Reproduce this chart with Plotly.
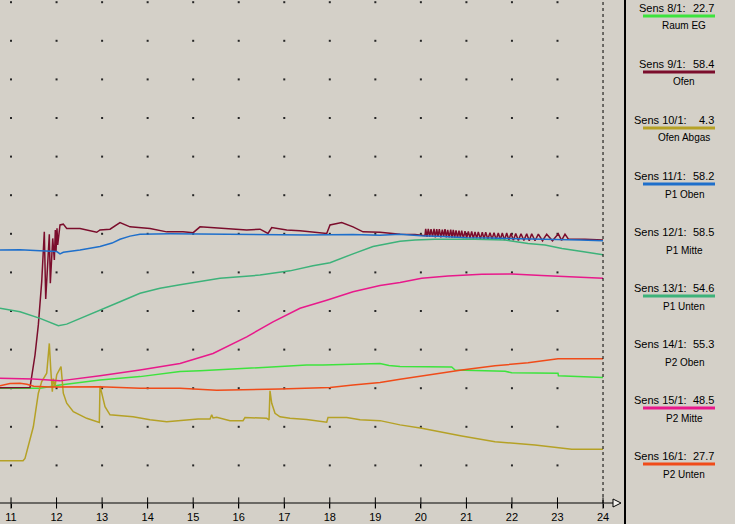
import plotly.graph_objects as go

# ---------------- axis / grid ----------------
x_ticks = [11, 12, 13, 14, 15, 16, 17, 18, 19, 20, 21, 22, 23, 24]
x_tick_labels = [str(v) for v in x_ticks]
grid_hours = [11, 12, 13, 14, 15, 16, 17, 18, 19, 20, 21, 22, 23]
grid_temps = [0, 10, 20, 30, 40, 50, 60, 70, 80, 90, 100, 110, 120]
x_range = [10.758, 24.197]
y_range = [-9.74, 120.57]
cursor_hour = 24

# ---------------- legend panel ----------------
sensor_ids = ["Sens 8/1:", "Sens 9/1:", "Sens 10/1:", "Sens 11/1:", "Sens 12/1:",
              "Sens 13/1:", "Sens 14/1:", "Sens 15/1:", "Sens 16/1:"]
sensor_values = ["22.7", "58.4", "4.3", "58.2", "58.5", "54.6", "55.3", "48.5", "27.7"]
sensor_names = ["Raum EG", "Ofen", "Ofen Abgas", "P1 Oben", "P1 Mitte",
                "P1 Unten", "P2 Oben", "P2 Mitte", "P2 Unten"]
sensor_colors = ["#3de33d", "#7b0d2c", "#b5a126", "#1e6fcb", None,
                 "#3db27a", None, "#e8198b", "#f04b19"]

# ---------------- series ----------------
raum_t = [10.758, 11.637, 12.076, 12.954, 13.833, 14.711, 15.150, 16.176, 17.493, 17.851,
          18.9, 19.103, 19.3, 19.542, 20.677, 20.75, 21.848, 21.995, 23.011, 23.02, 24.0]
raum_v = [20.0, 20.0, 20.8, 22.1, 23.0, 24.3, 24.5, 25.2, 26.0, 26.0,
          26.2, 26.4, 25.9, 25.6, 25.5, 24.7, 24.4, 24.0, 23.9, 23.2, 22.8]

ofen_t = [10.758, 10.978, 11.198, 11.35, 11.417, 11.527, 11.6, 11.674, 11.709, 11.731,
          11.762, 11.841, 11.863, 11.916, 11.951, 11.973, 11.988, 12.01, 12.025, 12.076,
          12.148, 12.223, 12.515, 12.882, 12.954, 13.174, 13.393, 13.613, 14.052, 14.419,
          14.777, 15.0, 15.15, 15.589, 15.875, 16.176, 16.468, 16.643, 16.725, 17.054,
          17.346, 17.631, 17.932, 18.005, 18.262, 18.51, 18.73, 19.103, 19.388, 19.542,
          19.871, 20.09,
          20.106, 20.135, 20.163, 20.193, 20.223, 20.256, 20.289, 20.318, 20.348, 20.376,
          20.405, 20.438, 20.471, 20.50, 20.530, 20.56, 20.589, 20.622, 20.655, 20.683,
          20.712, 20.742, 20.772, 20.805, 20.837, 20.867, 20.897, 20.933, 20.969, 21.005,
          21.042, 21.079, 21.116, 21.152, 21.189, 21.225, 21.261, 21.305, 21.349, 21.386,
          21.424, 21.471, 21.518, 21.562, 21.606, 21.653, 21.700, 21.744, 21.788, 21.836,
          21.885, 21.932, 21.979, 22.031, 22.083, 22.141, 22.199, 22.262, 22.324, 22.379,
          22.434, 22.506, 22.579, 22.671, 22.763, 22.89, 23.018, 23.09, 23.165, 23.24,
          23.6, 24.0]
ofen_v = [20.1, 20.1, 20.2, 20.2, 20.2, 28.6, 36.4, 47.6, 58.0, 60.5,
          43.1, 59.9, 47.2, 58.8, 53.2, 61.0, 55.4, 61.4, 57.1, 62.3,
          62.5, 61.4, 61.4, 60.4, 61.0, 61.2, 62.9, 61.8, 61.4, 60.5,
          60.5, 60.3, 61.8, 61.4, 61.1, 61.0, 61.2, 60.1, 61.6, 61.0,
          60.8, 60.4, 60.1, 62.3, 62.9, 61.8, 60.5, 60.4, 60.1, 59.9,
          59.8, 59.5,
          61.3, 59.2, 61.3, 59.2, 61.2, 59.2, 61.3, 59.1, 61.2, 59.2,
          61.2, 59.1, 61.1, 59.2, 61.2, 59.1, 61.0, 59.1, 61.1, 59.0,
          61.0, 59.0, 60.9, 59.0, 60.8, 59.0, 60.8, 58.9, 60.7, 58.9,
          60.6, 58.9, 60.6, 58.8, 60.5, 58.8, 60.5, 58.7, 60.4, 58.7,
          60.4, 58.6, 60.3, 58.6, 60.3, 58.5, 60.2, 58.5, 60.2, 58.4,
          60.2, 58.4, 60.1, 58.3, 60.1, 58.3, 60.0, 58.3, 60.0, 58.2,
          60.0, 58.2, 59.9, 58.2, 59.9, 58.2, 60.0, 58.3, 59.9, 58.6,
          58.6, 58.4]

abgas_t = [10.758, 11.264, 11.307, 11.49, 11.6, 11.674, 11.784, 11.82, 11.841, 11.872,
           11.907, 11.929, 11.966, 12.004, 12.098, 12.148, 12.223, 12.368, 12.662, 12.939,
           12.954, 13.064, 13.174, 13.679, 14.052, 14.419, 14.711, 15.106, 15.37, 15.407,
           15.436, 15.517, 15.809, 16.094, 16.138, 16.615, 16.665, 16.687, 16.725, 16.797,
           16.907, 17.126, 17.493, 17.932, 17.961, 18.372, 18.664, 19.103, 19.542, 20.018,
           20.897, 21.628, 22.506, 23.312, 24.0]
abgas_v = [1.2, 1.2, 1.8, 10.0, 18.7, 21.7, 23.9, 28.0, 31.6, 25.0,
           19.1, 22.5, 20.5, 23.5, 25.6, 18.7, 16.1, 13.9, 12.2, 11.1,
           20.6, 15.2, 13.1, 12.6, 11.8, 11.3, 11.6, 12.0, 12.0, 13.1,
           12.3, 12.5, 11.6, 11.6, 12.4, 12.2, 11.8, 19.3, 16.1, 13.5,
           12.6, 12.2, 11.9, 11.2, 12.4, 12.4, 11.8, 11.6, 10.5, 9.6,
           7.6, 6.1, 5.3, 4.2, 4.2]

p1oben_t = [10.758, 11.198, 11.637, 12.004, 12.076, 12.148, 12.515, 12.954, 13.218, 13.393,
            13.613, 13.833, 14.5, 15.5, 16.5, 17.5, 18.5, 19.1, 19.542, 20.0,
            20.5, 21.0, 21.5, 22.0, 22.5, 23.0, 23.5, 24.0]
p1oben_v = [55.8, 55.9, 55.6, 55.4, 54.8, 55.2, 55.8, 56.7, 57.6, 58.6,
            59.4, 59.9, 60.0, 59.9, 59.8, 59.7, 59.8, 59.6, 59.9, 59.5,
            59.3, 59.0, 58.9, 58.8, 58.7, 58.5, 58.4, 58.2]

p1unten_t = [10.758, 11.198, 11.637, 12.039, 12.223, 12.515, 12.954, 13.393, 13.833, 14.272,
             14.711, 15.15, 15.589, 16.468, 17.126, 17.631, 18.005, 18.51, 18.949, 19.542,
             19.871, 20.31, 21.189, 21.848, 22.353, 22.726, 23.099, 23.539, 24.0]
p1unten_v = [40.7, 39.8, 38.1, 36.2, 36.6, 38.1, 40.3, 42.4, 44.6, 45.9,
             46.8, 47.6, 48.5, 49.3, 50.4, 51.7, 52.5, 54.8, 56.7, 58.1,
             58.4, 58.6, 58.6, 58.4, 57.5, 57.1, 56.2, 55.4, 54.6]

p2mitte_t = [10.758, 11.49, 12.076, 12.954, 13.833, 14.711, 15.436, 16.176, 16.753, 17.346,
             17.932, 18.51, 19.103, 19.542, 20.018, 20.596, 21.336, 21.995, 22.653, 23.231, 24.0]
p2mitte_v = [22.6, 22.4, 21.9, 23.2, 24.7, 26.4, 29.0, 33.3, 37.2, 40.7,
             42.8, 45.0, 46.6, 47.4, 48.5, 49.1, 49.5, 49.6, 49.2, 48.9, 48.5]

p2unten_t = [10.758, 10.978, 11.198, 11.35, 11.5, 11.856, 12.954, 13.833, 14.711, 15.517,
             16.907, 18.005, 18.51, 19.103, 19.542, 20.157, 20.897, 21.628, 22.353, 23.011, 24.0]
p2unten_v = [20.6, 21.2, 21.3, 21.0, 20.5, 20.3, 20.4, 20.0, 20.0, 19.5,
             19.8, 20.2, 20.8, 21.5, 22.3, 23.4, 24.7, 25.8, 26.6, 27.6, 27.6]

series = [
    (raum_t, raum_v, sensor_colors[0]),
    (ofen_t, ofen_v, sensor_colors[1]),
    (abgas_t, abgas_v, sensor_colors[2]),
    (p1oben_t, p1oben_v, sensor_colors[3]),
    (p1unten_t, p1unten_v, sensor_colors[5]),
    (p2mitte_t, p2mitte_v, sensor_colors[7]),
    (p2unten_t, p2unten_v, sensor_colors[8]),
]

BG = "#d4d0c8"
FONT = "Liberation Sans"
W, H = 735, 524
ML, MR, MT, MB = 0, 123, 0, 21
PW, PH = W - ML - MR, H - MT - MB

fig = go.Figure()

# dotted grid (intersection points)
fig.add_trace(go.Scatter(
    x=[h for h in grid_hours for _ in grid_temps],
    y=[v for _ in grid_hours for v in grid_temps],
    mode="markers",
    marker=dict(symbol="square", size=2, color="#262626", line=dict(width=0)),
    hoverinfo="skip"))

for t, v, c in series:
    fig.add_trace(go.Scatter(x=t, y=v, mode="lines",
                             line=dict(color=c, width=1.5), hoverinfo="skip"))

# crossing tick marks on the time axis
fig.add_trace(go.Scatter(
    x=x_ticks, y=[y_range[0]] * len(x_ticks), mode="markers", cliponaxis=False,
    marker=dict(symbol="line-ns", size=8, line=dict(color="black", width=1)),
    hoverinfo="skip"))


def px_x(p):
    return (p - ML) / PW


def px_y(p):
    return (H - MB - p) / PH


shapes = [
    # cursor line
    dict(type="line", xref="x", yref="paper", x0=cursor_hour, x1=cursor_hour, y0=0, y1=1,
         line=dict(color="black", width=1, dash="3px,3px")),
    # time axis line
    dict(type="line", xref="paper", yref="paper", x0=0, x1=px_x(613), y0=0, y1=0,
         line=dict(color="black", width=1.2)),
    # arrow head
    dict(type="path", xref="paper", yref="paper",
         path=f"M {px_x(613)} {px_y(499)} L {px_x(621)} {px_y(503)} L {px_x(613)} {px_y(507)} Z",
         line=dict(color="black", width=1), fillcolor="#f4f2ee"),
    # panel separator
    dict(type="line", xref="paper", yref="paper", x0=px_x(625), x1=px_x(625),
         y0=px_y(H), y1=px_y(0), line=dict(color="black", width=2)),
]

annotations = []
for k, (sid, val, name, col) in enumerate(zip(sensor_ids, sensor_values, sensor_names, sensor_colors)):
    base = 56 * k
    left = 637 if len(sid) < 10 else 632
    annotations.append(dict(x=px_x(left), y=px_y(8 + base), xref="paper", yref="paper",
                            text=sid, showarrow=False, xanchor="left", yanchor="middle",
                            font=dict(family=FONT, size=11, color="black")))
    annotations.append(dict(x=px_x(716), y=px_y(8 + base), xref="paper", yref="paper",
                            text=val, showarrow=False, xanchor="right", yanchor="middle",
                            font=dict(family=FONT, size=11, color="black")))
    annotations.append(dict(x=px_x(684), y=px_y(26 + base), xref="paper", yref="paper",
                            text=name, showarrow=False, xanchor="center", yanchor="middle",
                            font=dict(family=FONT, size=10, color="black")))
    if col:
        shapes.append(dict(type="line", xref="paper", yref="paper",
                           x0=px_x(643), x1=px_x(715), y0=px_y(16 + base), y1=px_y(16 + base),
                           line=dict(color=col, width=3)))

fig.update_layout(
    width=W, height=H,
    margin=dict(l=ML, r=MR, t=MT, b=MB, pad=0),
    paper_bgcolor=BG, plot_bgcolor=BG,
    showlegend=False,
    shapes=shapes, annotations=annotations,
    xaxis=dict(range=x_range, tickvals=x_ticks, ticktext=x_tick_labels,
               showgrid=False, zeroline=False, showline=False,
               ticks="outside", ticklen=4, tickcolor="black",
               tickfont=dict(family=FONT, size=11, color="black"), fixedrange=True),
    yaxis=dict(range=y_range, visible=False, fixedrange=True),
)

fig.write_html("out.html",
               post_script="document.body.style.margin='0';document.body.style.overflow='hidden';",
               config={"displayModeBar": False})
